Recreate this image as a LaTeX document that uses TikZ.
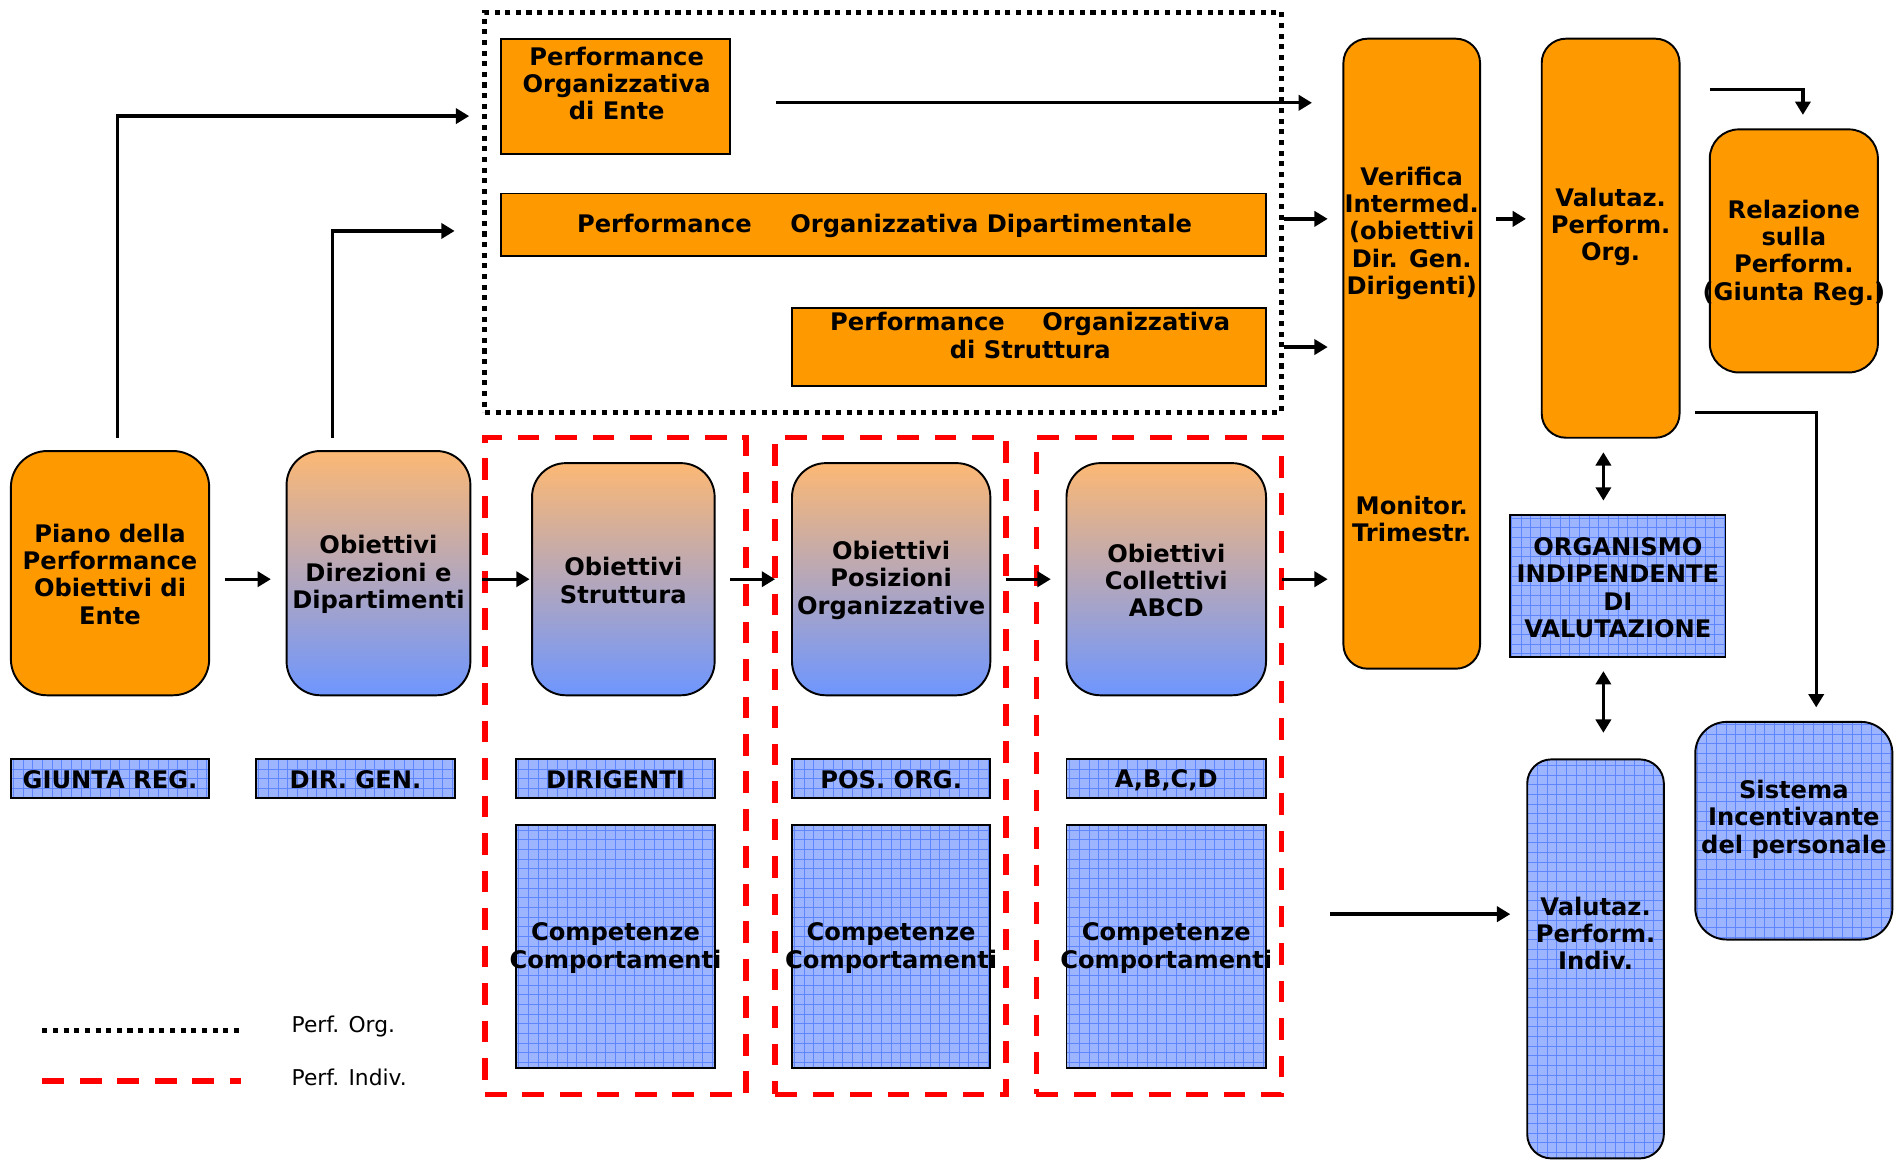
\documentclass[tikz,border=0pt]{standalone}
\usepackage{fontspec}
\setmainfont{DejaVu Sans}
\usetikzlibrary{calc,arrows.meta}
\definecolor{orng}{HTML}{FF9900}
\definecolor{gtop}{HTML}{FCB874}
\definecolor{gbot}{HTML}{6E96FF}
\definecolor{gfill}{HTML}{9DB4FF}
\definecolor{gline}{HTML}{5F86FF}
\tikzset{
  box/.style={draw=black, line width=1.6pt, inner sep=0pt, outer sep=0pt},
  orbox/.style={box, fill=orng},
  grbox/.style={box, top color=gtop, bottom color=gbot},
  gdbox/.style={box, fill=gfill, path picture={\draw[gline, line width=0.6pt, step=8pt] (path picture bounding box.south west) grid (path picture bounding box.north east);}},
  tx/.style={font=\fontsize{20}{22.5}\selectfont\bfseries, align=center, inner sep=0pt},
  lt/.style={font=\fontsize{18}{22}\selectfont, inner sep=0pt, anchor=west},
  arr/.style={line width=2.8pt, -{Triangle[length=11pt,width=12.5pt]}},
  darr/.style={line width=2.8pt, {Triangle[length=11pt,width=12.5pt]}-{Triangle[length=11pt,width=12.5pt]}},
  dotframe/.style={draw=black, line width=4.2pt, dash pattern=on 4.2pt off 4.6pt},
  redframe/.style={draw=red, line width=4.4pt, dash pattern=on 18pt off 13pt},
}
\begin{document}
\begin{tikzpicture}[x=1pt,y=-1pt]
\useasboundingbox[fill=white] (0,0) rectangle (1568,959.3);
% frames
\node[dotframe, inner sep=0pt, minimum width=659pt, minimum height=331pt] (orgframe) at (730.5,175.5) {};
\node[redframe, inner sep=0pt, minimum width=216pt, minimum height=543pt] (f1) at (509,633.5) {};
\node[redframe, inner sep=0pt, minimum width=191pt, minimum height=543pt] (f2) at (736.5,633.5) {};
\node[redframe, inner sep=0pt, minimum width=203pt, minimum height=543pt] (f3) at (958.5,633.5) {};
% organisational performance boxes
\node[orbox, minimum width=190pt, minimum height=95pt] (pe) at (509,79.5) {};
\node[tx] (tpe) at (510,69) {Performance\\Organizzativa\\di Ente};
\node[orbox, minimum width=633pt, minimum height=52pt] (pd) at (730.5,186) {};
\node[tx] (tpd) at (731.5,187) {Performance\hspace{32pt}Organizzativa Dipartimentale};
\node[orbox, minimum width=392pt, minimum height=64pt] (ps) at (851,287) {};
\node[tx] (tps) at (852,277.5) {Performance\hspace{31pt}Organizzativa\\di Struttura};
% objective row
\node[orbox, rounded corners=30pt, minimum width=164pt, minimum height=202pt] (piano) at (91,474) {};
\node[tx] (tpiano) at (91,475) {Piano della\\Performance\\Obiettivi di\\Ente};
\node[grbox, rounded corners=28pt, minimum width=152pt, minimum height=202pt] (odd) at (313,474) {};
\node[tx] (todd) at (313,475) {Obiettivi\\Direzioni e\\Dipartimenti};
\node[grbox, rounded corners=28pt, minimum width=151pt, minimum height=192pt] (os) at (515.5,479) {};
\node[tx] (tos) at (515.5,480) {Obiettivi\\Struttura};
\node[grbox, rounded corners=28pt, minimum width=164pt, minimum height=192pt] (opo) at (737,479) {};
\node[tx] (topo) at (737,480) {Obiettivi\\Posizioni\\Organizzative};
\node[grbox, rounded corners=28pt, minimum width=165pt, minimum height=192pt] (oc) at (964.5,479) {};
\node[tx] (toc) at (964.5,480) {Obiettivi\\Collettivi\\ABCD};
% labels
\node[gdbox, minimum width=164pt, minimum height=32pt] (giunta) at (91,644) {};
\node[tx] (tgiunta) at (91,645) {GIUNTA REG.};
\node[gdbox, minimum width=164pt, minimum height=32pt] (dirgen) at (294,644) {};
\node[tx] (tdirgen) at (294,645) {DIR. GEN.};
\node[gdbox, minimum width=164pt, minimum height=32pt] (dirig) at (509,644) {};
\node[tx] (tdirig) at (509,645) {DIRIGENTI};
\node[gdbox, minimum width=164pt, minimum height=32pt] (posorg) at (737,644) {};
\node[tx] (tposorg) at (737,645) {POS. ORG.};
\node[gdbox, minimum width=165pt, minimum height=32pt] (abcd) at (964.5,644) {};
\node[tx] (tabcd) at (964.5,645) {A,B,C,D};
% competenze
\node[gdbox, minimum width=164pt, minimum height=201pt] (c1) at (509,782.5) {};
\node[tx] (tc1) at (509,784) {Competenze\\Comportamenti};
\node[gdbox, minimum width=164pt, minimum height=201pt] (c2) at (737,782.5) {};
\node[tx] (tc2) at (737,784) {Competenze\\Comportamenti};
\node[gdbox, minimum width=165pt, minimum height=201pt] (c3) at (964.5,782.5) {};
\node[tx] (tc3) at (964.5,784) {Competenze\\Comportamenti};
% right part
\node[orbox, rounded corners=20pt, minimum width=113pt, minimum height=521pt] (ver) at (1167.5,292.5) {};
\node[tx] (tver) at (1167.5,193) {Verifica\\Intermed.\\(obiettivi\\Dir. Gen.\\Dirigenti)};
\node[tx] (tmon) at (1167.5,429) {Monitor.\\Trimestr.};
\node[orbox, rounded corners=20pt, minimum width=114pt, minimum height=330pt] (vpo) at (1332,197) {};
\node[tx] (tvpo) at (1332,187.5) {Valutaz.\\Perform.\\Org.};
\node[orbox, rounded corners=24pt, minimum width=139pt, minimum height=201pt] (rel) at (1483.5,207.5) {};
\node[tx] (trel) at (1483.5,209) {Relazione\\sulla\\Perform.\\(Giunta Reg.)};
\node[gdbox, minimum width=178pt, minimum height=117pt] (oiv) at (1338,484.5) {};
\node[tx] (toiv) at (1338,486) {ORGANISMO\\INDIPENDENTE\\DI\\VALUTAZIONE};
\node[gdbox, rounded corners=20pt, minimum width=113pt, minimum height=330pt] (vpi) at (1319.5,793) {};
\node[tx] (tvpi) at (1319.5,772) {Valutaz.\\Perform.\\Indiv.};
\node[gdbox, rounded corners=26pt, minimum width=163pt, minimum height=180pt] (sis) at (1483.5,687) {};
\node[tx] (tsis) at (1483.5,677.5) {Sistema\\Incentivante\\del personale};
% connectors
\coordinate (a1) at (388,96);
\coordinate (a2) at (376,191);
\draw[arr] ($(piano.north)+(6,-11)$) |- (a1);
\draw[arr] ($(odd.north)+(-38,-11)$) |- (a2);
\draw[arr] ($(pe.east)+(38,5.5)$) -- ($(ver.west|-pe.east)+(-26,5.5)$);
\draw[arr] ($(orgframe.east|-pd.east)+(0,-5)$) -- ($(ver.west|-pd.east)+(-13,-5)$);
\draw[arr] (orgframe.east|-ps.east) -- ($(ver.west|-ps.east)+(-13,0)$);
\draw[arr] ($(piano.east)+(13,5)$) -- ($(odd.west)+(-13,5)$);
\draw[arr] (f1.west|-os.west) -- ($(os.west)+(-2,0)$);
\draw[arr] ($(os.east)+(13,0)$) -- ($(opo.west)+(-14,0)$);
\draw[arr] ($(opo.east)+(13,0)$) -- ($(oc.west)+(-13,0)$);
\draw[arr] ($(oc.east)+(13,0)$) -- ($(ver.west|-oc.east)+(-13,0)$);
\draw[arr] ($(ver.east|-pd.east)+(13,-5)$) -- ($(vpo.west|-pd.east)+(-13,-5)$);
\draw[arr] ($(vpo.east|-0,74)+(25,0)$) -| ($(rel.north)+(7.5,-12)$);
\draw[arr] ($(vpo.east|-0,341)+(13,0)$) -| ($(sis.north)+(18.5,-12)$);
\draw[darr] ($(vpo.south)+(-6,12)$) -- ($(oiv.north)+(-12,-12)$);
\draw[darr] ($(oiv.south)+(-12,12)$) -- ($(vpi.north)+(6.5,-22)$);
\draw[arr] ($(f3.east|-0,756)+(38,0)$) -- ($(vpi.west|-0,756)+(-14,0)$);
% legend
\coordinate (l1) at (35,852);
\coordinate (l2) at (201,852);
\coordinate (l3) at (35,894);
\coordinate (l4) at (199,894);
\draw[dotframe] (l1) -- (l2);
\draw[redframe] (l3) -- (l4);
\node[lt] (lt1) at (241,849) {Perf. Org.};
\node[lt] (lt2) at (241,891) {Perf. Indiv.};
\end{tikzpicture}
\end{document}
